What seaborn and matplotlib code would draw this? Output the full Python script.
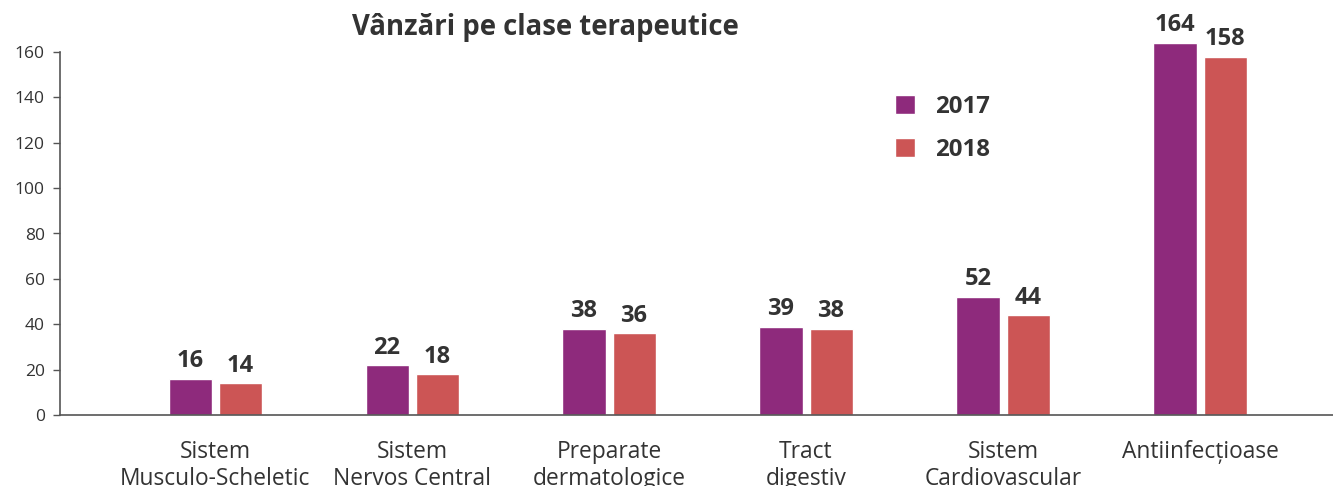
"""Sales by therapeutic class, 2017 vs 2018."""

import matplotlib
matplotlib.use("Agg")
import matplotlib.pyplot as plt
import pandas as pd
import seaborn as sns

categories = [
    "Sistem\nMusculo-Scheletic",
    "Sistem\nNervos Central",
    "Preparate\ndermatologice",
    "Tract\ndigestiv",
    "Sistem\nCardiovascular",
    "Antiinfecțioase",
]
sales_2017 = [16, 22, 38, 39, 52, 164]
sales_2018 = [14, 18, 36, 38, 44, 158]
years = ["2017", "2018"]
colors = ["#8E2A7C", "#CC5555"]

df = pd.DataFrame({
    "Clasa": categories * 2,
    "An": [years[0]] * len(categories) + [years[1]] * len(categories),
    "Vanzari": sales_2017 + sales_2018,
})

sns.set_theme(style="white")
plt.rcParams["font.family"] = ["Open Sans", "DejaVu Sans"]
text_color = "#333333"

# axis: y=0 at 415 px, y=160 at 52 px -> extend axes to the top of the figure
px_per_unit = (415 - 52) / 160
ymax = 415 / px_per_unit

fig = plt.figure(figsize=(13.33, 4.86), dpi=100)
ax = fig.add_axes([60 / 1333, 1 - 415 / 486, 1 - 60 / 1333, 415 / 486])

sns.barplot(
    data=df, x="Clasa", y="Vanzari", hue="An",
    palette=colors, width=0.508, gap=0.14, saturation=1, ax=ax,
)

for container in ax.containers:
    ax.bar_label(container, padding=4, fontsize=17, fontweight="bold", color=text_color)

ax.set_xlim(-0.787, 5.675)
ax.set_ylim(0, ymax)
ax.set_yticks(range(0, 161, 20))
ax.set_xlabel("")
ax.set_ylabel("")

for side in ["top", "right"]:
    ax.spines[side].set_visible(False)
for side in ["left", "bottom"]:
    ax.spines[side].set_color("#555555")
    ax.spines[side].set_linewidth(1.2)
ax.spines["left"].set_bounds(0, 160)

ax.tick_params(axis="y", left=True, length=5, width=1, color="#555555",
               labelsize=12.5, labelcolor=text_color, pad=6)
ax.tick_params(axis="x", bottom=False, labelsize=16.4, labelcolor=text_color, pad=12)
for label in ax.get_xticklabels():
    label.set_linespacing(1.15)
    label.set_verticalalignment("top")

leg = ax.legend(
    loc="upper left", bbox_to_anchor=(813 / 1273, 1 - 73 / 415),
    frameon=False, handlelength=0.85, handleheight=0.85, handletextpad=0.85,
    labelspacing=0.8, prop={"size": 17.3, "weight": "bold"},
)
for text in leg.get_texts():
    text.set_color(text_color)

fig.text(545 / 1333, 1 - 28 / 486, "Vânzări pe clase terapeutice",
         ha="center", va="center", fontsize=19.8, fontweight="bold", color=text_color)

fig.savefig("out.png", dpi=100)
